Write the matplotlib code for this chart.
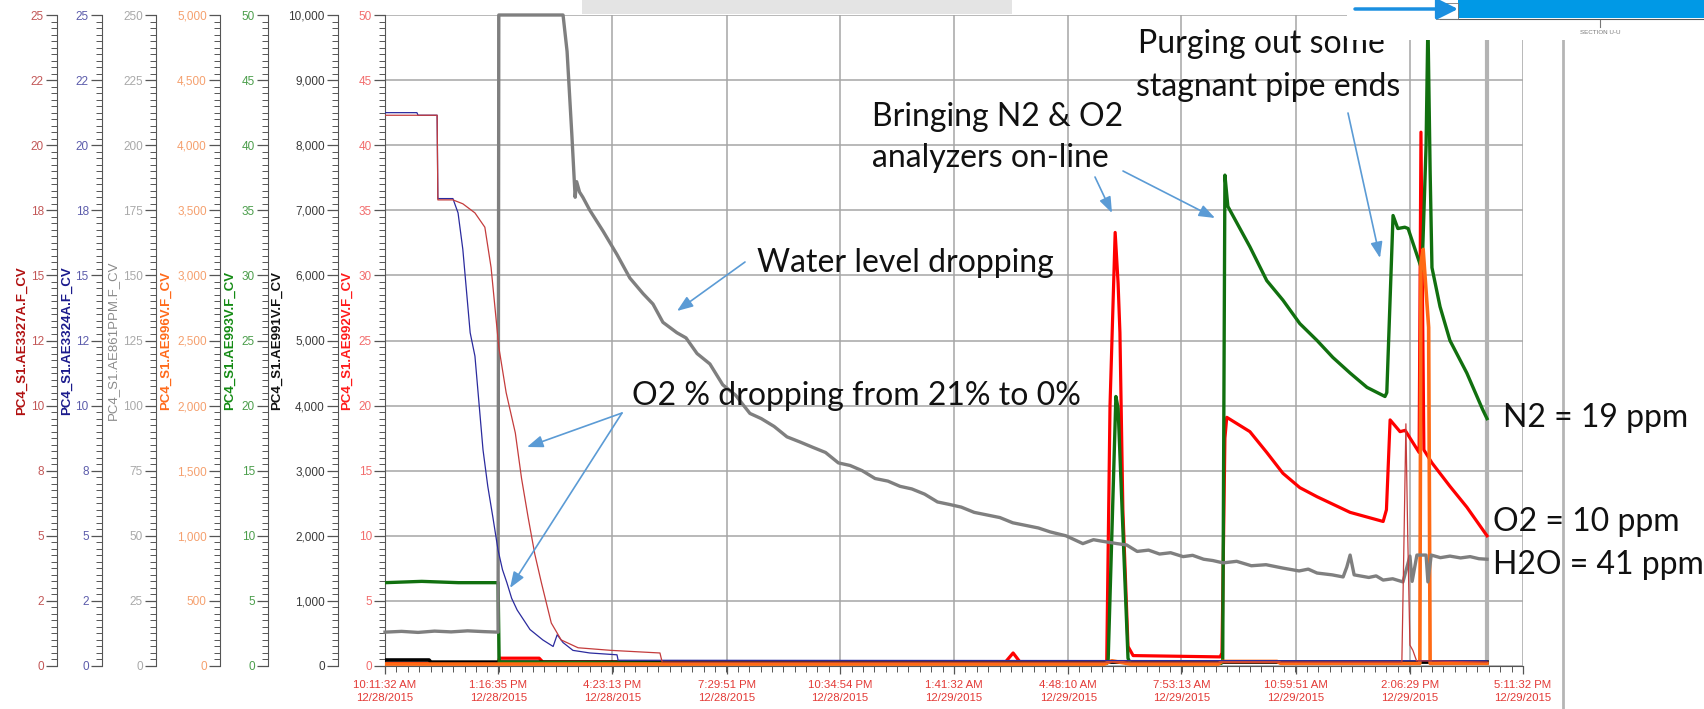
import matplotlib
matplotlib.use("Agg")
import numpy as np
import pandas as pd
import matplotlib.pyplot as plt
import matplotlib.dates as mdates
import matplotlib.ticker as mticker
from matplotlib.patches import Rectangle, FancyArrowPatch
from matplotlib.lines import Line2D

plt.rcParams['font.family'] = ['Liberation Sans', 'DejaVu Sans']

W, H = 1704, 709
START = pd.Timestamp("2015-12-28 10:11:32")
SPAN_H = 31.0

tick_labels = ["10:11:32 AM 12/28/2015", "1:16:35 PM 12/28/2015", "4:23:13 PM 12/28/2015",
               "7:29:51 PM 12/28/2015", "10:34:54 PM 12/28/2015", "1:41:32 AM 12/29/2015",
               "4:48:10 AM 12/29/2015", "7:53:13 AM 12/29/2015", "10:59:51 AM 12/29/2015",
               "2:06:29 PM 12/29/2015", "5:11:32 PM 12/29/2015"]

# hours after START for every trend, values in each tag's own units
# PC4_S1.AE861PPM.F_CV  (moisture, ppm, 0-250)
h2o_hours = [0.00, 0.45, 0.90, 1.35, 1.80, 2.25, 2.70, 3.08, 3.10, 4.85,
             4.96, 5.09, 5.18, 5.22, 5.30, 5.39, 5.58, 5.94, 6.32, 6.67,
             7.03, 7.30, 7.57, 7.95, 8.20, 8.50, 8.85, 9.20, 9.55, 9.94,
             10.25, 10.60, 10.95, 11.31, 11.65, 12.00, 12.35, 12.67, 13.00, 13.35,
             13.70, 14.03, 14.35, 14.70, 15.05, 15.39, 15.70, 16.05, 16.40, 16.75,
             17.10, 17.45, 17.80, 18.12, 18.55, 19.01, 19.30, 19.50, 19.94, 20.20,
             20.49, 20.80, 21.10, 21.40, 21.74, 22.00, 22.30, 22.55, 22.83, 23.20,
             23.60, 24.00, 24.46, 24.90, 25.15, 25.39, 25.80, 26.10, 26.20, 26.29,
             26.40, 26.80, 27.00, 27.19, 27.45, 27.73, 27.92, 27.98, 28.11, 28.36,
             28.41, 28.50, 28.75, 29.01, 29.30, 29.56, 29.80, 30.02]
h2o_ppm = [13.0, 13.3, 12.9, 13.4, 13.1, 13.5, 13.2, 13.0, 250, 250,
           236, 204, 180, 186, 182, 180, 175, 167, 158, 149,
           143, 139, 132, 128, 126, 120, 116, 108, 104, 97,
           95, 92, 88, 86, 84, 82, 78, 77, 75, 72,
           71, 69, 68, 66, 63, 62, 61, 59, 58, 57,
           55, 54, 53, 51.5, 50, 47, 48.5, 48, 47, 46.5,
           44, 44.5, 43, 43.5, 42, 42.5, 41, 40.5, 39.6, 40.2,
           38.5, 38.9, 37.6, 36.5, 37.2, 35.7, 35, 34.2, 38, 42.6,
           35, 34, 34.6, 33, 33.5, 32.3, 42.2, 32.5, 42.6, 42.6,
           32.3, 42.6, 41.6, 42.2, 41.5, 42.0, 41.2, 41.0]

# PC4_S1.AE993V.F_CV  (N2, 0-50)
n2_hours = [0.00, 1.00, 2.00, 3.08, 3.11, 8.0, 14.0, 19.66, 19.70, 19.91,
            19.97, 20.24, 20.30, 22.78, 22.82, 22.88, 22.96, 23.56, 24.02, 24.46,
            24.92, 25.39, 25.82, 26.29, 26.75, 27.24, 27.29, 27.46, 27.59, 27.78,
            27.87, 28.25, 28.36, 28.41, 28.47, 28.52, 28.74, 29.01, 29.47, 29.90, 30.02]
n2_vals = [6.4, 6.5, 6.4, 6.4, 0.3, 0.2, 0.2, 0.2, 0.5, 20.7,
           19.8, 0.6, 0.2, 0.2, 0.4, 37.7, 35.3, 32.2, 29.6, 28.1,
           26.3, 25.0, 23.7, 22.5, 21.4, 20.7, 21.0, 34.6, 33.6, 33.7,
           33.6, 30.4, 40.0, 49.5, 38.0, 30.6, 27.6, 25.0, 22.5, 19.7, 19.0]

# PC4_S1.AE992V.F_CV  (O2, 0-50)
o2_hours = [0.00, 3.08, 3.12, 4.20, 4.30, 16.90, 17.11, 17.30, 19.66, 19.75,
            19.89, 19.97, 20.02, 20.10, 20.24, 20.38, 22.75, 22.80, 22.88, 22.93,
            23.56, 24.02, 24.46, 24.92, 25.39, 26.29, 27.19, 27.28, 27.38, 27.65,
            27.79, 28.17, 28.22, 28.30, 28.52, 29.01, 29.47, 30.02]
o2_vals = [0.2, 0.2, 0.6, 0.6, 0.3, 0.3, 1.0, 0.3, 0.3, 20.0,
           33.3, 29.4, 25.6, 12.0, 1.5, 0.8, 0.7, 1.0, 17.5, 19.1,
           18.0, 16.4, 14.8, 13.7, 13.0, 11.8, 11.1, 12.0, 18.9, 18.0,
           18.1, 16.4, 41.0, 16.6, 15.6, 13.8, 12.2, 10.0]

# PC4_S1.AE996V.F_CV  (0-5000)
ae996_hours = [0.00, 19.60, 19.80, 20.30, 22.70, 22.80, 24.30, 24.40, 28.19, 28.22,
               28.28, 28.43, 28.47, 30.02]
ae996_vals = [15, 15, 40, 15, 15, 35, 35, 20, 20, 3100,
              3200, 2600, 20, 20]

# PC4_S1.AE991V.F_CV  (0-10,000)
ae991_hours = [0.00, 1.20, 1.25, 30.02]
ae991_vals = [92, 92, 60, 60]

# PC4_S1.AE3324A.F_CV  (O2 %, 0-25)
ae3324_hours = [0.00, 0.87, 0.90, 1.42, 1.44, 1.85, 1.99, 2.12, 2.32, 2.45,
                2.67, 2.80, 2.94, 3.08, 3.20, 3.32, 3.45, 3.60, 3.95, 4.30,
                4.58, 4.69, 4.85, 5.12, 5.58, 6.32, 6.35, 30.02]
ae3324_vals = [21.25, 21.25, 21.15, 21.15, 17.95, 17.95, 17.4, 16.0, 12.8, 11.9,
               8.3, 6.9, 5.7, 4.45, 3.7, 3.2, 2.6, 2.15, 1.4, 1.0,
               0.75, 1.2, 0.9, 0.6, 0.5, 0.43, 0.22, 0.2]

# PC4_S1.AE3327A.F_CV  (O2 %, 0-25)
ae3327_hours = [0.00, 1.42, 1.44, 1.85, 2.12, 2.45, 2.72, 2.89, 3.10, 3.30,
                3.55, 3.72, 3.90, 4.08, 4.26, 4.53, 4.80, 5.26, 6.16, 7.49,
                7.55, 27.70, 27.76, 27.81, 27.86, 27.92, 28.00, 28.10, 30.02]
ae3327_vals = [21.15, 21.15, 17.9, 17.9, 17.75, 17.4, 16.85, 15.3, 12.25, 10.5,
               8.95, 7.2, 5.7, 4.3, 3.2, 1.65, 1.0, 0.7, 0.6, 0.5,
               0.15, 0.15, 5.0, 9.3, 5.0, 0.8, 0.6, 0.2, 0.15]


def to_time(hours):
    return START + pd.to_timedelta(np.asarray(hours, dtype=float), unit='h')


def fx(px):
    return px / W


def fy(px):
    return 1 - px / H


SPINE = '#555555'

fig = plt.figure(figsize=(W / 100, H / 100), dpi=100)
ax = fig.add_axes([fx(385), fy(666), (1523 - 385) / W, (666 - 15) / H])


def style_scale(a, ymax, label, label_x, label_color, tick_color, weight='bold'):
    a.set_ylim(0, ymax)
    a.yaxis.set_major_locator(mticker.MultipleLocator(ymax / 10))
    a.yaxis.set_minor_locator(mticker.MultipleLocator(ymax / 100))
    a.yaxis.set_major_formatter(mticker.FuncFormatter(lambda v, p: f"{round(v):,}"))
    a.tick_params(axis='y', which='major', direction='out', length=8, width=0.9,
                  color=SPINE, labelsize=8.5, labelcolor=tick_color, pad=1.5)
    a.tick_params(axis='y', which='minor', direction='out', length=4, width=0.7, color=SPINE)
    a.set_ylabel(label, color=label_color, fontsize=9.5, fontweight=weight)
    a.yaxis.set_label_coords(label_x, 0.5)
    a.yaxis.label.set_va('center')


def add_scale(offset, *args, **kw):
    a = ax.twinx()
    for side in ('right', 'top', 'bottom'):
        a.spines[side].set_visible(False)
    a.spines['left'].set_visible(True)
    a.spines['left'].set_position(('axes', offset))
    a.spines['left'].set_color(SPINE)
    a.yaxis.set_ticks_position('left')
    a.yaxis.set_label_position('left')
    style_scale(a, *args, **kw)
    return a


# host axis carries the O2 analyzer scale and the grid
for side in ('right', 'top'):
    ax.spines[side].set_visible(False)
ax.spines['left'].set_color(SPINE)
ax.spines['bottom'].set_color(SPINE)
style_scale(ax, 50, "PC4_S1.AE992V.F_CV", -0.0334, '#ff1a1a', '#f26d6d')

ax_991 = add_scale(-0.0413, 10000, "PC4_S1.AE991V.F_CV", -0.0949, '#111111', '#3a3a3a')
ax_993 = add_scale(-0.1028, 50, "PC4_S1.AE993V.F_CV", -0.1362, '#138a13', '#4c9e4c')
ax_996 = add_scale(-0.1450, 5000, "PC4_S1.AE996V.F_CV", -0.1924, '#ff6a1a', '#f5a06e')
ax_861 = add_scale(-0.2012, 250, "PC4_S1.AE861PPM.F_CV", -0.2390, '#8a8a8a', '#a9a9a9', weight='normal')
ax_3324 = add_scale(-0.2487, 25, "PC4_S1.AE3324A.F_CV", -0.2794, '#1a1a8c', '#5c5cab')
ax_3327 = add_scale(-0.2882, 25, "PC4_S1.AE3327A.F_CV", -0.3190, '#b01010', '#c25757')

# time axis
ax.set_xlim(START, START + pd.Timedelta(hours=SPAN_H))
ticks = pd.to_datetime(tick_labels, format="%I:%M:%S %p %m/%d/%Y")
ax.set_xticks(list(ticks.to_pydatetime()))
ax.set_xticklabels(["\n".join(s.rsplit(" ", 1)) for s in tick_labels])
t0 = mdates.date2num(START.to_pydatetime())
ax.xaxis.set_minor_locator(mticker.FixedLocator(t0 + np.arange(101) * SPAN_H / 24 / 100))
ax.tick_params(axis='x', which='major', length=6, width=0.9, color=SPINE,
               labelsize=8.2, labelcolor='#e33a36', pad=4)
ax.tick_params(axis='x', which='minor', length=4, width=0.7, color=SPINE)
for lbl in ax.get_xticklabels():
    lbl.set_linespacing(1.35)
ax.grid(True, which='major', color='#a6a6a6', linewidth=1.1)
ax.set_axisbelow(True)

end_time = to_time(h2o_hours)[-1]
ax.axvline(end_time, color='#b3b3b3', lw=3)

# trends
ax.plot(to_time(o2_hours), o2_vals, color='#ff0000', lw=2.3)
ax_991.plot(to_time(ae991_hours), ae991_vals, color='#000000', lw=2.6)
ax_993.plot(to_time(n2_hours), n2_vals, color='#11700f', lw=2.4)
ax_996.plot(to_time(ae996_hours), ae996_vals, color='#ff6a14', lw=2.6)
ax_861.plot(to_time(h2o_hours), h2o_ppm, color='#7f7f7f', lw=2.4, clip_on=False)
ax_3324.plot(to_time(ae3324_hours), ae3324_vals, color='#2b2b9e', lw=0.9)
ax_3327.plot(to_time(ae3327_hours), ae3327_vals, color='#c43c3c', lw=0.9)

# callouts
note = dict(family=['Lato', 'DejaVu Sans'], fontsize=23, color='#111111', va='center', ha='left')
fig.text(fx(757), fy(263), "Water level dropping", **note)
fig.text(fx(632), fy(396), "O2 % dropping from 21% to 0%", **note)
fig.text(fx(872), fy(117), "Bringing N2 & O2", **note)
fig.text(fx(872), fy(158), "analyzers on-line", **note)
fig.text(fx(1138), fy(44), "Purging out some", **note)
fig.text(fx(1136), fy(87), "stagnant pipe ends", **note)
fig.text(fx(1503), fy(418), f"N2 = {n2_vals[-1]:.0f} ppm", **note)
fig.text(fx(1493), fy(522), f"O2 = {o2_vals[-1]:.0f} ppm", **note)
fig.text(fx(1493), fy(565), f"H2O = {h2o_ppm[-1]:.0f} ppm", **note)

arrows = [((745, 262), (677, 311)), ((622, 413), (527, 447)), ((622, 413), (510, 588)),
          ((1095, 177), (1112, 213)), ((1123, 171), (1215, 218)), ((1348, 113), (1380, 258))]
for (x0, y0), (x1, y1) in arrows:
    fig.add_artist(FancyArrowPatch((fx(x0), fy(y0)), (fx(x1), fy(y1)), transform=fig.transFigure,
                                   arrowstyle='-|>,head_length=0.8,head_width=0.3', mutation_scale=12,
                                   lw=1.2, color='#5b9bd5', shrinkA=0, shrinkB=0, zorder=4))

# slide furniture: title strip, page border, pasted drawing in the corner
fig.add_artist(Rectangle((fx(582), fy(14)), (1012 - 582) / W, 14 / H, transform=fig.transFigure,
                         facecolor='#e4e4e4', edgecolor='none', zorder=5))
fig.add_artist(Line2D([fx(1563), fx(1563)], [0, 1], transform=fig.transFigure, color='#b5b5b5', lw=2))
fig.add_artist(Rectangle((fx(1347), fy(40)), (W - 1347) / W, 40 / H, transform=fig.transFigure,
                         facecolor='white', edgecolor='none', zorder=5))
fig.add_artist(Rectangle((fx(1458), fy(18)), (W - 1458) / W, 18 / H, transform=fig.transFigure,
                         facecolor='#0099e6', edgecolor='none', zorder=6))
fig.add_artist(Line2D([fx(1440), 1], [fy(19), fy(19)], transform=fig.transFigure,
                      color='#555555', lw=0.8, zorder=6))
fig.add_artist(Rectangle((fx(1436), fy(19)), 22 / W, 16 / H, transform=fig.transFigure,
                         facecolor='none', edgecolor='#777777', lw=0.6, zorder=6))
fig.add_artist(Line2D([fx(1600), fx(1600)], [fy(20), fy(27)], transform=fig.transFigure,
                      color='#777777', lw=0.8, zorder=6))
fig.text(fx(1600), fy(33), "SECTION U-U", fontsize=4.5, color='#777777', ha='center', va='center', zorder=7)
fig.add_artist(FancyArrowPatch((fx(1355), fy(9)), (fx(1458), fy(9)), transform=fig.transFigure,
                               arrowstyle='-|>,head_length=0.9,head_width=0.45', mutation_scale=14,
                               lw=2.5, color='#1a8fe0', shrinkA=0, shrinkB=0, zorder=7))

fig.savefig('out.png', dpi=100)
